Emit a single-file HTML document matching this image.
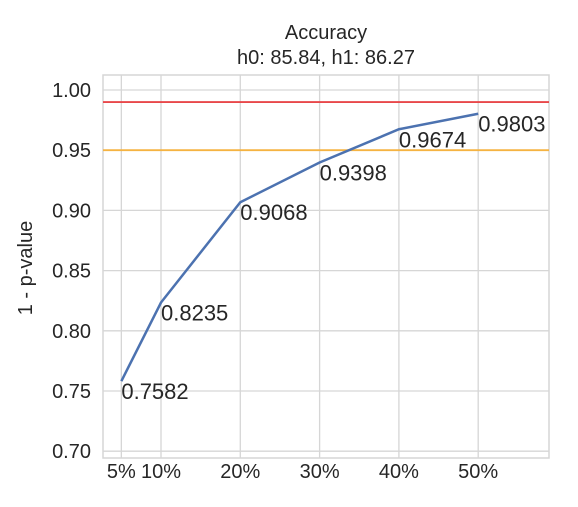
<!DOCTYPE html>
<html><head><meta charset="utf-8"><style>
body{margin:0;background:#fff;}
svg{font-family:"Liberation Sans",Arial,sans-serif;}
</style></head><body>
<svg id="chart" width="578" height="502" viewBox="0 0 578 502">
<rect x="0" y="0" width="578" height="502" fill="#fff"/>
<text x="326" y="39" text-anchor="middle" font-size="20" fill="#262626">Accuracy</text>
<text x="326" y="64" text-anchor="middle" font-size="20" fill="#262626">h0: 85.84, h1: 86.27</text>
<text transform="translate(32,268) rotate(-90)" text-anchor="middle" font-size="20" fill="#262626">1 - p-value</text>
<g id="grid"></g><g id="marks"></g>
</svg>
<script>
const categories=[5,10,20,30,40,50];
const xTickLabels=["5%","10%","20%","30%","40%","50%"];
const values=[0.7582,0.8235,0.9068,0.9398,0.9674,0.9803];
const valueLabels=["0.7582","0.8235","0.9068","0.9398","0.9674","0.9803"];
const yTicks=[0.70,0.75,0.80,0.85,0.90,0.95,1.00];
const yTickLabels=["0.70","0.75","0.80","0.85","0.90","0.95","1.00"];
const thresholds=[0.99,0.95];
const thresholdColors=["#e8474a","#f5b342"];
const L=103,R=549,T=75,B=458;
const x=v=>161+(v-10)*7.93;
const y=v=>90+(1.0-v)*1204;
const NS="http://www.w3.org/2000/svg";
const g=document.getElementById('grid'),m=document.getElementById('marks');
function el(t,a,p){const e=document.createElementNS(NS,t);for(const k in a)e.setAttribute(k,a[k]);p.appendChild(e);return e;}
yTicks.forEach((t,i)=>{
 const l=el('line',{x1:L,x2:R,y1:y(t),y2:y(t),stroke:'#d6d6d6','stroke-width':1.3},g);
 
 
 const tx=el('text',{x:91,y:y(t)+7,'text-anchor':'end','font-size':20,fill:'#262626'},g);
 tx.textContent=yTickLabels[i];
 
 
});
categories.forEach((c,i)=>{
 const l=el('line',{x1:x(c),x2:x(c),y1:T,y2:B,stroke:'#d6d6d6','stroke-width':1.3},g);
 
 
 const tx=el('text',{x:x(c),y:478,'text-anchor':'middle','font-size':20,fill:'#262626'},g);
 tx.textContent=xTickLabels[i];
 
 
});
const fr=el('rect',{x:L,y:T,width:R-L,height:B-T,fill:'none',stroke:'#d6d6d6','stroke-width':1.5},g);


thresholds.forEach((t,i)=>{
 const l=el('line',{x1:L,x2:R,y1:y(t),y2:y(t),stroke:thresholdColors[i],'stroke-width':1.8},m);
 
 
});
const pl=el('polyline',{points:categories.map((c,i)=>x(c)+','+y(values[i])).join(' '),fill:'none',stroke:'#4c72b0','stroke-width':2.5},m);


categories.forEach((c,i)=>{
 const tx=el('text',{x:x(c),y:y(values[i])+18,'font-size':22,fill:'#262626'},m);
 tx.textContent=valueLabels[i];
 
 
});
</script>
</body></html>
